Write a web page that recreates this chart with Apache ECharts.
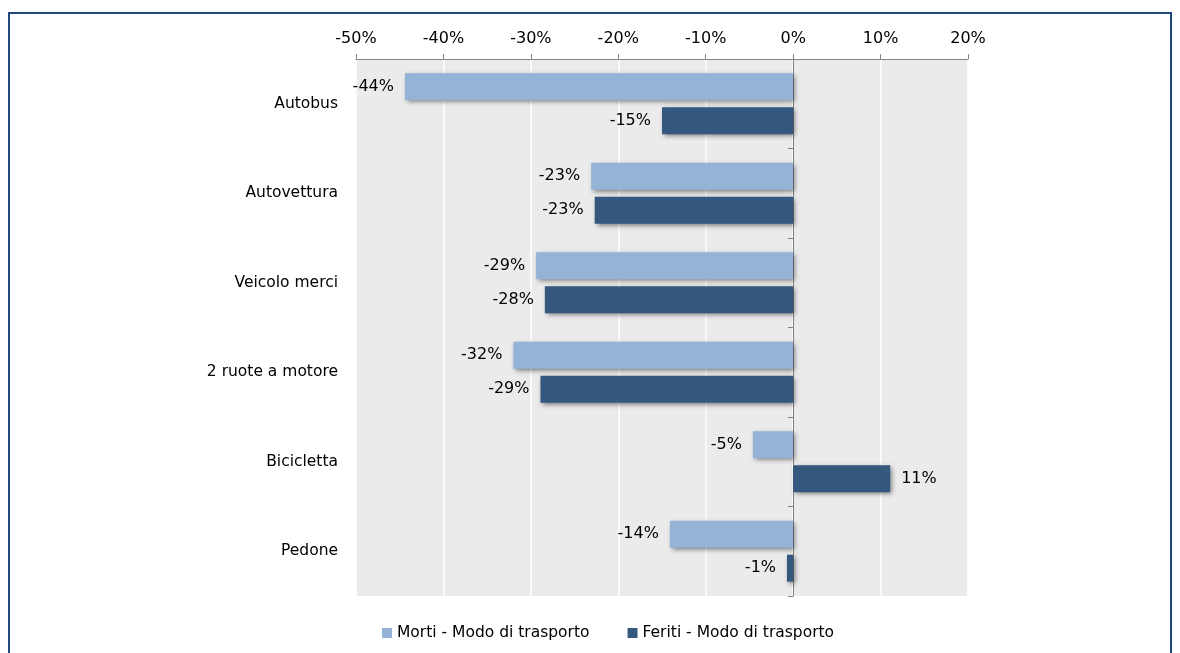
<!DOCTYPE html>
<html>
<head>
<meta charset="utf-8">
<script src="https://cdn.jsdelivr.net/npm/echarts@6/dist/echarts.min.js"></script>
<style>
html,body{margin:0;padding:0;background:#fff;}
#chart{width:1180px;height:653px;}
</style>
</head>
<body>
<div id="chart"></div>
<script>
var categories = ['Autobus', 'Autovettura', 'Veicolo merci', '2 ruote a motore', 'Bicicletta', 'Pedone'];
var morti = [-44.4, -23.1, -29.4, -32.0, -4.6, -14.1];
var feriti = [-15.0, -22.7, -28.4, -28.9, 11.1, -0.7];
var xTicks = { min: -50, max: 20, interval: 10 };
var seriesNames = ['Morti - Modo di trasporto', 'Feriti - Modo di trasporto'];

var FONT = '"DejaVu Sans", Verdana, sans-serif';
var chart = echarts.init(document.getElementById('chart'), null, { renderer: 'canvas' });

function mkData(arr) {
  return arr.map(function (v) {
    return { value: v, label: { position: v < 0 ? 'left' : 'right' } };
  });
}
var shadow = { shadowColor: 'rgba(0,0,0,0.5)', shadowBlur: 5, shadowOffsetX: 2, shadowOffsetY: 2 };

chart.setOption({
  backgroundColor: '#ffffff',
  animation: false,
  graphic: [{
    type: 'polyline',
    shape: { points: [[9, 653], [9, 13], [1171, 13], [1171, 653]] },
    style: { stroke: '#1F497D', lineWidth: 2, fill: null }
  }],
  grid: {
    left: 356, right: 212, top: 59, bottom: 57,
    show: true, backgroundColor: '#EBEBEB', borderWidth: 0
  },
  legend: {
    bottom: 7, left: 377,
    itemWidth: 10, itemHeight: 10, itemGap: 38,
    icon: 'rect',
    textStyle: { fontFamily: FONT, fontSize: 15.5, color: '#000' },
    data: seriesNames
  },
  xAxis: {
    type: 'value', position: 'top',
    min: xTicks.min, max: xTicks.max, interval: xTicks.interval,
    axisLine: { show: true, onZero: false, lineStyle: { color: '#868686', width: 1 } },
    axisTick: { show: true, length: 5, lineStyle: { color: '#868686' } },
    splitLine: { show: true, lineStyle: { color: '#ffffff', width: 1.5 } },
    axisLabel: { fontFamily: FONT, fontSize: 16, color: '#000', margin: 12,
      formatter: function (v) { return v + '%'; } }
  },
  yAxis: [{
    type: 'category', inverse: true, data: categories,
    axisLine: { show: false, onZero: false },
    axisTick: { show: false },
    axisLabel: { fontFamily: FONT, fontSize: 15.5, color: '#000', margin: 18 }
  }, {
    type: 'category', inverse: true, data: categories, position: 'left',
    axisLine: { show: true, onZero: true, lineStyle: { color: '#7F7F7F', width: 1 } },
    axisTick: { show: true, length: 5, lineStyle: { color: '#7F7F7F', width: 1 } },
    axisLabel: { show: false }
  }],
  series: [{
    name: seriesNames[0], type: 'bar', yAxisIndex: 0,
    data: mkData(morti),
    barCategoryGap: '32%', barGap: '26%',
    itemStyle: Object.assign({ color: '#95B3D7' }, shadow),
    label: { show: true, distance: 11, fontFamily: FONT, fontSize: 16, color: '#000',
      formatter: function (p) { return Math.round(p.value) + '%'; } }
  }, {
    name: seriesNames[1], type: 'bar', yAxisIndex: 0,
    data: mkData(feriti),
    barCategoryGap: '32%', barGap: '26%',
    itemStyle: Object.assign({ color: '#35597E' }, shadow),
    label: { show: true, distance: 11, fontFamily: FONT, fontSize: 16, color: '#000',
      formatter: function (p) { return Math.round(p.value) + '%'; } }
  }]
});
</script>
</body>
</html>
